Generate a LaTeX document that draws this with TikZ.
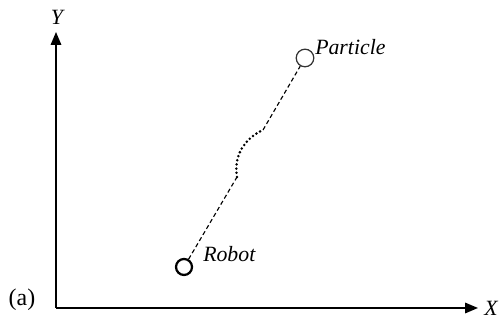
\documentclass[tikz,border=0pt]{standalone}
\usepackage{fontspec}
\setmainfont{Liberation Serif}
\usetikzlibrary{arrows.meta,positioning}

\begin{document}
\begin{tikzpicture}[
  axis/.style={-{Triangle[length=3.2mm, width=2.6mm]}, line width=1.1pt},
  lbl/.style={font=\fontsize{15.5}{18}\selectfont\itshape, inner sep=0pt},
  robotpt/.style={circle, draw, line width=1.6pt, minimum size=0.4cm, inner sep=0pt},
  partpt/.style={circle, draw=black!80, line width=0.9pt, minimum size=0.44cm, inner sep=0pt},
  track/.style={line width=0.8pt, dash pattern=on 3pt off 2pt},
  jump/.style={line width=2pt, dash pattern=on 0pt off 3pt, line cap=round}
]
\useasboundingbox (0,0) rectangle (12.5,8.125);

% Axes
\coordinate (orig) at (1.4,0.425);
\coordinate (ytip) at (1.4,7.325);
\coordinate (xtip) at (11.95,0.425);
\draw[axis] (orig) -- (ytip);
\draw[axis] (orig) -- (xtip);
\node[lbl] (ylab) at (1.425,7.7) {Y};
\node[lbl, anchor=west] (xlab) at (12.1,0.425) {X};
\node[font=\fontsize{17}{20}\selectfont, inner sep=0pt] (tag) at (0.55,0.625) {(a)};

% Robot and particle
\node[robotpt] (robot) at (4.6,1.45) {};
\node[partpt] (particle) at (7.625,6.675) {};
\node[lbl, anchor=base west] (robotlab) at (5.075,1.575) {Robot};
\node[lbl, anchor=base west] (partlab) at (7.875,6.75) {Particle};

% Path between them
\coordinate (bendA) at (5.925,3.7);
\coordinate (bendB) at (6.575,4.875);
\draw[track] (robot) -- (bendA);
\draw[jump] (bendA) to[out=100, in=205] (bendB);
\draw[track] (bendB) -- (particle);

\end{tikzpicture}
\end{document}
